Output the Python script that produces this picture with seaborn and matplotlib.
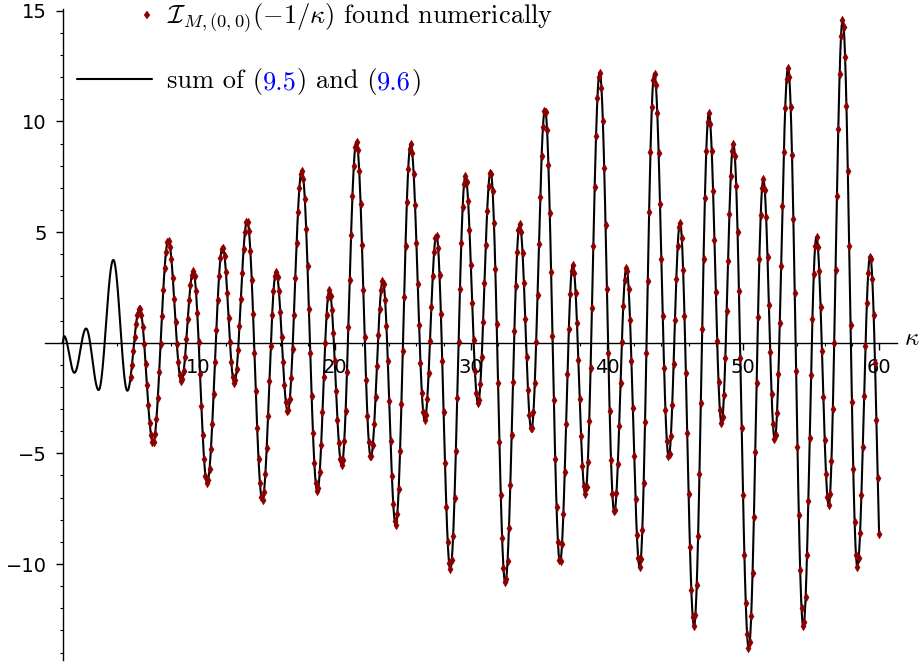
import numpy as np
import pandas as pd
import matplotlib
matplotlib.use("Agg")
import matplotlib.pyplot as plt
import seaborn as sns
from matplotlib.lines import Line2D
from matplotlib.legend_handler import HandlerLine2D
from matplotlib.ticker import MultipleLocator

# turning points of the curve (kappa, value)
kappa_ext = [0.0, 0.11, 0.87, 1.73, 2.65, 3.73, 4.76, 5.66, 6.65, 7.77,
             8.73, 9.60, 10.62, 11.76, 12.62, 13.56, 14.68, 15.69, 16.55, 17.58,
             18.72, 19.60, 20.51, 21.59, 22.65, 23.53, 24.48, 25.58, 26.61, 27.47,
             28.49, 29.60, 30.53, 31.45, 32.53, 33.59, 34.45, 35.45, 36.55, 37.49,
             38.41, 39.47, 40.54, 41.43, 42.41, 43.48, 44.54, 45.37, 46.40, 47.49,
             48.42, 49.29, 50.42, 51.49, 52.33, 53.31, 54.43, 55.39, 56.30, 57.32,
             58.40, 59.34, 60.35]
value_ext = [0.0, 0.30, -1.36, 0.64, -2.14, 3.74, -2.17, 1.55, -4.52, 4.62,
             -1.74, 3.23, -6.33, 4.32, -1.82, 5.51, -7.11, 3.20, -3.12, 7.79,
             -6.73, 2.36, -5.53, 9.08, -5.18, 2.80, -8.24, 8.98, -3.49, 4.87,
             -10.24, 7.53, -2.74, 7.74, -10.85, 5.36, -3.94, 10.55, -9.94, 3.53,
             -6.84, 12.22, -7.66, 3.39, -10.15, 12.17, -5.16, 5.43, -12.80, 10.36,
             -3.63, 8.97, -13.81, 7.38, -4.37, 12.42, -12.83, 4.76, -7.34, 14.58,
             -10.12, 3.92, -13.26]

kappa_start, kappa_end = 0.0, 60.0     # extent of the black curve
pts_start, pts_step = 5.0, 0.1          # numerical points every 0.1 from 5 to 60

x_ticks = [10, 20, 30, 40, 50, 60]
y_ticks = [-10, -5, 5, 10, 15]

label_pts = r"$\mathcal{I}_{M,(0,0)}(-1/\kappa)$ found numerically"
label_sum = ["sum of (", "9.5", ") and (", "9.6", ")"]
label_sum_colors = ["black", "blue", "black", "blue", "black"]


def smooth_through(k, k_ext, v_ext):
    k_ext = np.asarray(k_ext)
    v_ext = np.asarray(v_ext)
    i = np.clip(np.searchsorted(k_ext, k, side="right") - 1, 0, len(k_ext) - 2)
    t = (k - k_ext[i]) / (k_ext[i + 1] - k_ext[i])
    return v_ext[i] + (v_ext[i + 1] - v_ext[i]) * (1 - np.cos(np.pi * t)) / 2


class RightMarker(HandlerLine2D):
    # put the single legend marker at the right end of the handle
    def get_xdata(self, legend, xdescent, ydescent, width, height, fontsize):
        x = -xdescent + 0.93 * width
        return [x, x], [x]


k_line = np.linspace(kappa_start, kappa_end, 6001)
df_line = pd.DataFrame({"kappa": k_line,
                        "value": smooth_through(k_line, kappa_ext, value_ext)})
k_pts = pts_start + pts_step * np.arange(int(round((kappa_end - pts_start) / pts_step)) + 1)
df_pts = pd.DataFrame({"kappa": k_pts,
                       "value": smooth_through(k_pts, kappa_ext, value_ext)})

sns.set_style("ticks", {"axes.edgecolor": "black", "xtick.color": "black",
                        "ytick.color": "black", "text.color": "black"})
plt.rcParams["font.family"] = ["DejaVu Sans"]
plt.rcParams["mathtext.fontset"] = "cm"

fig = plt.figure(figsize=(9.2, 6.66), dpi=100)
ax = fig.add_axes([45 / 920, 5.7 / 666, 851.8 / 920, 651.8 / 666])

sns.lineplot(data=df_line, x="kappa", y="value", color="black", lw=1.5,
             sort=False, estimator=None, ax=ax, zorder=2)
sns.scatterplot(data=df_pts, x="kappa", y="value", marker="d", s=20,
                color="darkred", edgecolor="darkred", linewidth=0.3, ax=ax, zorder=3)

ax.set_xlabel("")
ax.set_ylabel("")
ax.set_xlim(-1.29, 61.3)
ax.set_ylim(-14.35, 15.1)

for side in ["top", "right"]:
    ax.spines[side].set_visible(False)
ax.spines["left"].set_position(("data", 0))
ax.spines["bottom"].set_position(("data", 0))
for side in ["left", "bottom"]:
    ax.spines[side].set_linewidth(1.0)

ax.set_xticks(x_ticks)
ax.set_yticks(y_ticks)
ax.xaxis.set_minor_locator(MultipleLocator(2))
ax.yaxis.set_minor_locator(MultipleLocator(1))
ax.tick_params(which="major", length=4.8, width=1.0, labelsize=14, pad=6.5)
ax.tick_params(which="minor", length=2.5, width=0.8)

ax.text(61.8, -0.1, r"$\kappa$", fontsize=18, ha="left", va="baseline", clip_on=False)

h_pts = Line2D([], [], marker="d", ls="none", color="darkred", ms=4.5, mew=0.3)
h_line = Line2D([], [], color="black", lw=1.5)
leg = ax.legend([h_pts, h_line], [label_pts, label_sum[0]],
                loc="upper left", bbox_to_anchor=(77 / 920, 1 - 2 / 666),
                bbox_transform=fig.transFigure, frameon=False,
                borderpad=0, borderaxespad=0, handlelength=2.84,
                handletextpad=0.57, labelspacing=1.25,
                prop={"family": "cmr10", "size": 19},
                handler_map={h_pts: RightMarker(numpoints=1)})

prev = leg.get_texts()[1]
for piece, col in zip(label_sum[1:], label_sum_colors[1:]):
    prev = ax.annotate(piece, xy=(1, 0), xycoords=prev, ha="left", va="bottom",
                       color=col, fontfamily="cmr10", fontsize=19, zorder=6)

fig.savefig("out.png", dpi=100)
